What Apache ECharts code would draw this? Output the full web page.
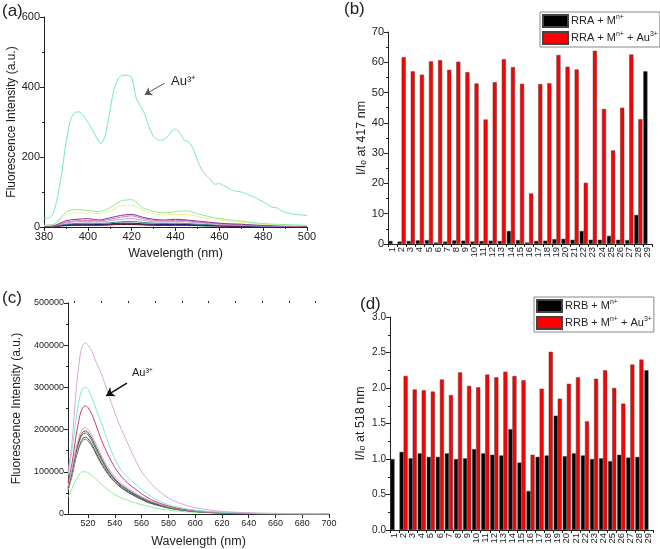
<!DOCTYPE html>
<html><head><meta charset="utf-8">
<script src="https://cdn.jsdelivr.net/npm/echarts@6/dist/echarts.min.js"></script>
<style>html,body{margin:0;padding:0;background:#fff}#c{width:660px;height:549px}</style>
</head><body><div id="c"></div>
<script>
// ---------- Panel (a) data ----------
const wlA2 = [380,382,384,386,388,390,392,394,396,398,400,402,404,406,408,410,412,414,416,418,420,422,424,426,428,430,432,434,436,438,440,442,444,446,448,450,452,454,456,458,460,462,464,466,468,470,472,474,476,478,480,482,484,486,488,490,492,494,496,498,500];
const auA = [25,26,35,80,150,240,305,327,329,318,300,278,255,238,262,330,395,425,434,433,428,370,345,322,285,258,249,248,256,272,280,268,248,243,225,190,163,148,135,122,124,118,112,105,102,100,96,90,85,78,72,65,57,55,48,42,39,37,35,34,33];
const wlA5 = [380,385,390,395,400,405,410,415,420,425,430,435,440,445,450,455,460,465,470,475,480,485,490,495,500];
const greenA = [5,10,42,50,47,44,55,74,78,55,45,40,44,46,38,30,24,20,17,13,10,8,7,6,5];
const yellowA = [4,8,35,40,40,38,45,60,62,48,38,34,36,36,30,24,20,16,13,10,8,6,5,4,4];
const purpleA = [2,5,18,22,24,20,26,33,36,28,22,20,22,20,17,14,11,9,8,6,5,4,3,3,2];
const pinkA = [2,4,14,18,19,17,22,28,32,24,19,17,19,18,14,12,9,8,6,5,4,3,3,2,2];
const lavenderA = [2,4,12,15,16,14,18,22,24,19,15,14,16,15,12,10,8,6,5,4,3,3,2,2,2];
const tealA = [1,3,8,10,11,10,12,15,16,13,11,10,11,10,8,7,5,4,4,3,2,2,2,1,1];
const navyA = [1,2,6,8,8,7,9,11,11,9,8,7,8,7,6,5,4,3,3,2,2,2,1,1,1];
const darkredA = [1,2,5,6,6,6,7,9,9,7,6,6,7,6,5,4,3,3,2,2,2,1,1,1,1];
const blackA = [1,2,4,5,5,5,6,7,7,6,5,5,5,5,4,3,3,2,2,2,1,1,1,1,1];

// ---------- Panel (b) data ----------
const catsB = ['1','2','3','4','5','6','7','8','9','10','11','12','13','14','15','16','17','18','19','20','21','22','23','24','25','26','27','28','29'];
const rraM = [1.0,0.8,1.0,1.2,1.3,0.5,0.8,1.2,1.1,0.8,1.0,1.1,1.0,4.3,1.3,0.5,1.0,1.1,1.6,1.7,1.4,4.3,1.4,1.4,2.7,1.4,1.3,9.6,57];
const rraMAu = [null,61.7,57,55.9,60.3,60.7,57.5,60.2,56.7,53,41.1,53.4,61,58.4,52.9,16.7,52.8,53.1,62.4,58.5,57.6,20.2,63.8,44.6,30.9,45,62.6,41.2,null];

// ---------- Panel (c) data ----------
const wlC = [505,508,511,514,516,518,520,523,526,530,535,540,545,550,555,560,565,570,580,590,600,610,620,640,660,680,700];
const violetC = [100000,170000,290000,375000,400000,405000,400000,385000,360000,332000,285000,240000,200000,165000,130000,100000,80000,62000,38000,24000,15000,10000,6000,3000,1500,800,500];
const aquaC = [90000,150000,225000,280000,297000,300000,295000,275000,248000,215000,170000,130000,103000,86000,72000,58000,46000,36000,22000,14000,9000,6000,4000,2000,1000,500,300];
const crimsonC = [75000,120000,185000,235000,252000,256000,252000,235000,210000,175000,140000,110000,88000,72000,60000,48000,38000,30000,19000,12000,8000,5000,3000,1500,800,400,200];
const pinkC = [65000,105000,155000,190000,202000,205000,200000,185000,165000,138000,110000,88000,72000,60000,50000,41000,33000,27000,17000,11000,7000,4500,3000,1500,800,400,200];
const grayC = [62000,100000,148000,182000,194000,197000,193000,178000,158000,132000,104000,83000,68000,57000,47000,39000,31000,25000,16000,10000,6500,4200,2800,1400,700,350,200];
const greenC = [60000,98000,145000,178000,189000,192000,188000,173000,153000,128000,101000,81000,66000,55000,45000,37000,30000,24000,15500,9800,6200,4000,2600,1300,700,350,150];
const yellowC = [58000,95000,140000,172000,184000,187000,183000,169000,150000,126000,100000,80000,66000,56000,46000,38000,31000,25000,16000,10000,6400,4100,2700,1300,700,350,150];
const navyC = [57000,93000,137000,168000,179000,182000,178000,164000,145000,121000,96000,77000,63000,52000,43000,35000,28000,23000,14500,9300,5900,3800,2500,1200,600,300,150];
const oliveC = [55000,90000,133000,163000,174000,177000,173000,160000,141000,118000,93000,75000,61000,51000,42000,34000,27000,22000,14000,9000,5700,3700,2400,1200,600,300,150];
const lgreenC = [40000,60000,82000,96000,100000,100000,98000,91000,82000,70000,57000,46000,38000,32000,27000,22000,18000,14000,9000,6000,4000,2500,1500,800,400,200,100];

// ---------- Panel (d) data ----------
const catsD = catsB;
const rrbM = [1.0,1.1,1.01,1.08,1.03,1.03,1.08,1.0,1.01,1.14,1.08,1.06,1.05,1.42,0.95,0.55,1.03,1.05,1.61,1.04,1.08,1.05,1.0,1.01,0.97,1.06,1.02,1.03,2.25];
const rrbMAu = [null,2.17,1.98,1.97,1.95,2.12,1.90,2.22,2.03,2.01,2.19,2.15,2.23,2.17,2.11,1.06,1.99,2.51,1.85,2.06,2.15,1.53,2.13,2.25,2.00,1.78,2.33,2.40,null];

// ---------- Tick values ----------
const ticksCMajor = [520,540,560,580,600,620,640,660,680,700];
const ticksCMinor = [510,530,550,570,590,610,630,650,670,690];

const zip = (xs, ys) => xs.map((x, i) => [x, ys[i]]);
const FONT = 'Arial, "Liberation Sans", sans-serif';
const TXT = '#222';

const legendRich = {
  'RRA + Mⁿ⁺': 'RRA + M{s|n+}',
  'RRA + Mⁿ⁺ + Au³⁺': 'RRA + M{s|n+} + Au{s|3+}',
  'RRB + Mⁿ⁺': 'RRB + M{s|n+}',
  'RRB + Mⁿ⁺ + Au³⁺': 'RRB + M{s|n+} + Au{s|3+}'
};
const legendText = {
  color: TXT, fontFamily: FONT, fontSize: 11, lineHeight: 14, padding: [0, 0, 0, -2],
  rich: {s: {fontSize: 7, lineHeight: 7, verticalAlign: 'top', fontFamily: FONT, color: TXT}}
};

function valAxis(o) {
  return Object.assign({
    type: 'value',
    axisLine: {show: true, lineStyle: {color: TXT, width: 1}},
    axisTick: {show: true, inside: false, length: 4, lineStyle: {color: TXT}},
    minorTick: {show: true, splitNumber: 2, length: 2, lineStyle: {color: TXT}},
    splitLine: {show: false},
    axisLabel: {color: TXT, fontFamily: FONT, fontSize: 11, margin: 4},
    nameLocation: 'middle',
    nameTextStyle: {color: TXT, fontFamily: FONT, fontSize: 12}
  }, o);
}
function catAxis(o) {
  return Object.assign({
    type: 'category',
    axisLine: {show: true, lineStyle: {color: TXT, width: 1}},
    axisTick: {show: true, length: 3, lineStyle: {color: TXT}},
    axisLabel: {color: TXT, fontFamily: FONT, fontSize: 9.5, rotate: 90, interval: 0, margin: 3},
    splitLine: {show: false}
  }, o);
}
function lineS(xi, yi, xs, ys, color, extra) {
  return Object.assign({
    type: 'line', xAxisIndex: xi, yAxisIndex: yi, data: zip(xs, ys),
    showSymbol: false, smooth: 0.3, lineStyle: {color: color, width: 1}, itemStyle: {color: color}, z: 2
  }, extra || {});
}

const option = {
  animation: false,
  backgroundColor: '#fff',
  textStyle: {fontFamily: FONT},
  grid: [
    {left: 44, top: 17, width: 263, height: 210},
    {left: 388, top: 32, width: 264, height: 212},
    {left: 68, top: 303, width: 261, height: 211},
    {left: 390, top: 317, width: 263, height: 213}
  ],
  xAxis: [
    valAxis({gridIndex: 0, min: 380, max: 500, interval: 20, name: 'Wavelength (nm)', nameGap: 20,
      nameTextStyle: {color: TXT, fontFamily: FONT, fontSize: 12.5}}),
    catAxis({gridIndex: 1, data: catsB}),
    valAxis({gridIndex: 2, min: 505, max: 700, name: 'Wavelength (nm)', nameGap: 21,
      nameTextStyle: {color: TXT, fontFamily: FONT, fontSize: 12.5},
      minorTick: {show: false},
      axisTick: {show: true, length: 4, customValues: ticksCMajor, lineStyle: {color: TXT}},
      axisLabel: {color: TXT, fontFamily: FONT, fontSize: 9, margin: 5, customValues: ticksCMajor}}),
    valAxis({gridIndex: 2, min: 505, max: 700, axisLine: {show: false}, minorTick: {show: false},
      axisTick: {show: true, length: 2, customValues: ticksCMinor, lineStyle: {color: TXT}},
      axisLabel: {show: false}}),
    catAxis({gridIndex: 3, data: catsD})
  ],
  yAxis: [
    valAxis({gridIndex: 0, min: 0, max: 600, interval: 200, name: 'Fluorescence Intensity (a.u.)', nameGap: 21}),
    valAxis({gridIndex: 1, min: 0, max: 70, interval: 10, name: 'I/Iₒ at 417 nm', nameGap: 17,
      nameTextStyle: {color: TXT, fontFamily: FONT, fontSize: 12.5}}),
    valAxis({gridIndex: 2, min: 0, max: 500000, interval: 100000, name: 'Fluorescence Intensity (a.u.)', nameGap: 45,
      axisLabel: {color: TXT, fontFamily: FONT, fontSize: 9, margin: 4, formatter: v => String(v)}}),
    valAxis({gridIndex: 3, min: 0, max: 3, interval: 0.5, name: 'I/Iₒ at 518 nm', nameGap: 23,
      nameTextStyle: {color: TXT, fontFamily: FONT, fontSize: 12.5},
      axisLabel: {color: TXT, fontFamily: FONT, fontSize: 10, margin: 4, formatter: v => v.toFixed(1)}})
  ],
  legend: [
    {data: ['RRA + Mⁿ⁺', 'RRA + Mⁿ⁺ + Au³⁺'], left: 540, top: 12, orient: 'vertical', icon: 'rect',
      itemWidth: 25, itemHeight: 12, itemGap: 3, padding: [2, 2, 2, 2], borderColor: '#888', borderWidth: 1,
      backgroundColor: '#fff', selectedMode: false, formatter: n => legendRich[n], textStyle: legendText},
    {data: ['RRB + Mⁿ⁺', 'RRB + Mⁿ⁺ + Au³⁺'], left: 534, top: 297, orient: 'vertical', icon: 'rect',
      itemWidth: 25, itemHeight: 12, itemGap: 3, padding: [2, 2, 2, 2], borderColor: '#888', borderWidth: 1,
      backgroundColor: '#fff', selectedMode: false, formatter: n => legendRich[n], textStyle: legendText}
  ],
  graphic: [
    {type: 'text', left: 2, top: 3, style: {text: '(a)', font: '17px ' + FONT, fill: TXT}},
    {type: 'text', left: 344, top: 1, style: {text: '(b)', font: '17px ' + FONT, fill: TXT}},
    {type: 'text', left: 2, top: 290, style: {text: '(c)', font: '17px ' + FONT, fill: TXT}},
    {type: 'text', left: 360, top: 296, style: {text: '(d)', font: '17px ' + FONT, fill: TXT}},
    {type: 'text', left: 171, top: 75, style: {text: 'Au³⁺', font: '13px ' + FONT, fill: TXT}},
    {type: 'text', left: 132, top: 367, style: {text: 'Au³⁺', font: '11px ' + FONT, fill: TXT}}
  ],
  series: [
    // panel (a)
    lineS(0, 0, wlA5, blackA, '#111'),
    lineS(0, 0, wlA5, darkredA, '#8b1a3a'),
    lineS(0, 0, wlA5, navyA, '#1a1a80'),
    lineS(0, 0, wlA5, tealA, '#3c8c8c'),
    lineS(0, 0, wlA5, lavenderA, '#b8a0dc'),
    lineS(0, 0, wlA5, pinkA, '#e070b8'),
    lineS(0, 0, wlA5, purpleA, '#7a3c8c'),
    lineS(0, 0, wlA5, yellowA, '#f2f08a'),
    lineS(0, 0, wlA5, greenA, '#8ee89a'),
    lineS(0, 0, wlA2, auA, '#72e6c4', {
      smooth: 0.2,
      markLine: {silent: true, symbol: ['none', 'arrow'], symbolSize: 7, animation: false,
        lineStyle: {color: '#555', width: 1, type: 'solid'}, label: {show: false},
        data: [[{coord: [435, 411]}, {coord: [426, 378]}]]}
    }),
    // panel (b)
    {type: 'bar', name: 'RRA + Mⁿ⁺', xAxisIndex: 1, yAxisIndex: 1, data: rraM, barGap: '0%', barCategoryGap: '10%',
      itemStyle: {color: '#000', borderColor: '#444', borderWidth: 0.5}},
    {type: 'bar', name: 'RRA + Mⁿ⁺ + Au³⁺', xAxisIndex: 1, yAxisIndex: 1, data: rraMAu, barGap: '0%', barCategoryGap: '10%',
      itemStyle: {color: '#ff0000', borderColor: '#444', borderWidth: 0.5}},
    // panel (c)
    lineS(2, 2, wlC, lgreenC, '#90ee90'),
    lineS(2, 2, wlC, oliveC, '#7c8a50'),
    lineS(2, 2, wlC, navyC, '#404878'),
    lineS(2, 2, wlC, yellowC, '#eeeeaa'),
    lineS(2, 2, wlC, greenC, '#3c7a5a'),
    lineS(2, 2, wlC, grayC, '#555'),
    lineS(2, 2, wlC, pinkC, '#e49ac8'),
    lineS(2, 2, wlC, crimsonC, '#c83c78'),
    lineS(2, 2, wlC, aquaC, '#78eccc'),
    lineS(2, 2, wlC, violetC, '#d8a8dc', {
      markLine: {silent: true, symbol: ['none', 'arrow'], symbolSize: 8, animation: false,
        lineStyle: {color: '#111', width: 1.5, type: 'solid'}, label: {show: false},
        data: [[{coord: [549, 310000]}, {coord: [533.5, 280000]}]]}
    }),
    // panel (d)
    {type: 'bar', name: 'RRB + Mⁿ⁺', xAxisIndex: 4, yAxisIndex: 3, data: rrbM, barGap: '0%', barCategoryGap: '10%',
      itemStyle: {color: '#000', borderColor: '#444', borderWidth: 0.5}},
    {type: 'bar', name: 'RRB + Mⁿ⁺ + Au³⁺', xAxisIndex: 4, yAxisIndex: 3, data: rrbMAu, barGap: '0%', barCategoryGap: '10%',
      itemStyle: {color: '#ff0000', borderColor: '#444', borderWidth: 0.5}}
  ]
};
const chart = echarts.init(document.getElementById('c'), null, {renderer: 'canvas'});
chart.setOption(option);
</script>
</body></html>
